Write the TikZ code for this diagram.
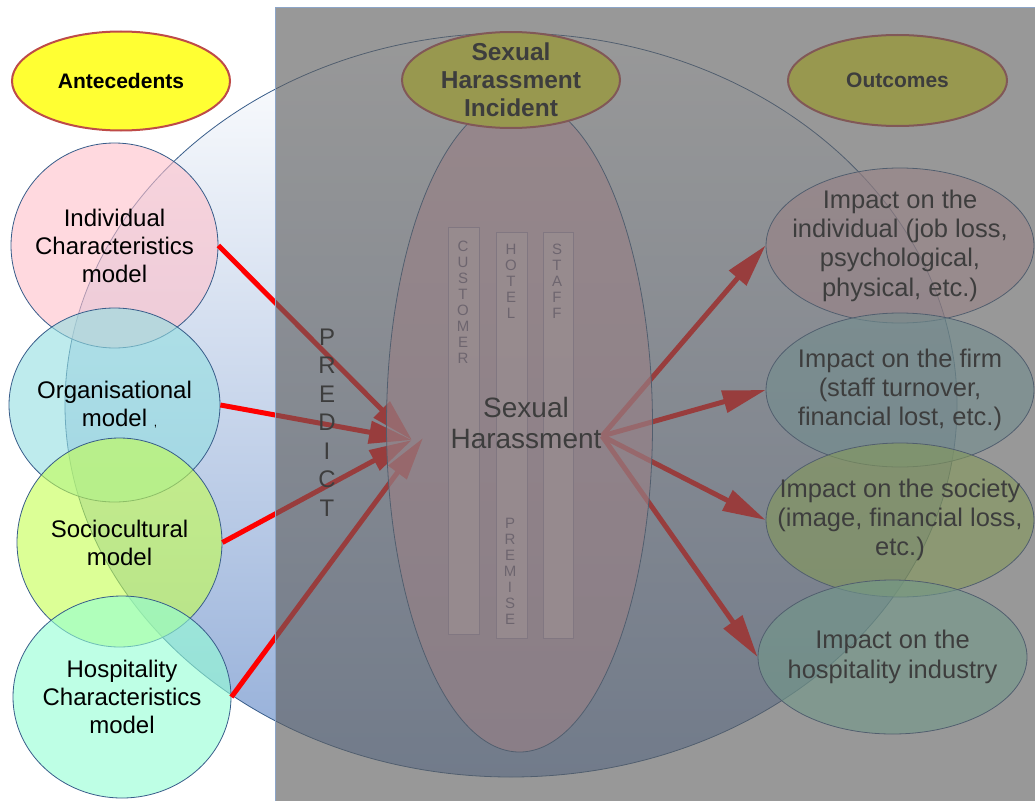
\documentclass[tikz,border=0pt]{standalone}
\usepackage{fontspec}
\setmainfont{Liberation Sans}
\usetikzlibrary{shapes.geometric,arrows.meta}

\definecolor{ringblue}{RGB}{56,93,138}
\definecolor{bigblue}{RGB}{146,173,216}
\definecolor{titlered}{RGB}{190,75,72}
\definecolor{titleyellow}{RGB}{255,255,51}
\definecolor{pinkfill}{RGB}{255,192,202}
\definecolor{cyanfill}{RGB}{147,223,225}
\definecolor{limefill}{RGB}{197,255,80}
\definecolor{mintfill}{RGB}{147,255,213}
\definecolor{corefill}{RGB}{250,185,200}
\definecolor{barfill}{RGB}{255,222,230}
\definecolor{barline}{RGB}{190,163,190}
\definecolor{barletter}{RGB}{135,112,138}
\definecolor{veil}{RGB}{96,96,96}
\definecolor{veilline}{RGB}{140,165,200}

\tikzset{
  titlebox/.style={ellipse, draw=titlered, line width=2pt, fill=titleyellow, inner sep=0pt},
  titletxt/.style={align=center, font=\bfseries\fontsize{21}{28}\selectfont, inner sep=0pt},
  modelbox/.style={ellipse, draw=ringblue, line width=0.8pt, fill opacity=0.6, inner sep=0pt},
  modeltxt/.style={align=center, font=\fontsize{24}{28}\selectfont, inner sep=0pt},
  outtxt/.style={align=center, font=\fontsize{25.5}{29.3}\selectfont, inner sep=0pt},
  link/.style={red, line width=5pt, -{Triangle[length=43pt,width=22pt]}},
  barbox/.style={draw=barline, fill=barfill, fill opacity=0.8, line width=0.8pt},
  barword/.style={align=center, font=\fontsize{15}{16}\selectfont, text=barletter, inner sep=0pt},
}

\begin{document}
\begin{tikzpicture}[x=1pt, y=-1pt]
  \useasboundingbox (0,0) rectangle (1035,800);
  \fill[white] (0,0) rectangle (1035,800);

  % large shaded field behind the whole chain
  \node[ellipse, draw=ringblue, line width=0.8pt, top color=white, bottom color=bigblue,
        minimum width=892pt, minimum height=744pt, inner sep=0pt] (field) at (511,405) {};

  % antecedent models
  \node[titlebox, minimum width=218pt, minimum height=99pt] (ante) at (121,81) {};
  \node[titletxt] (antetxt) at (ante) {Antecedents};

  \node[modelbox, fill=pinkfill, minimum width=207pt, minimum height=205pt] (indiv) at (114.5,245.5) {};
  \node[modelbox, fill=cyanfill, minimum width=211pt, minimum height=194pt] (org) at (114.5,405) {};
  \node[modelbox, fill=limefill, minimum width=205pt, minimum height=209pt] (socio) at (119.5,542.5) {};
  \node[modelbox, fill=mintfill, minimum width=218pt, minimum height=202pt] (hosp) at (122,697) {};

  \node[modeltxt] (indivtxt) at (indiv) {Individual\\Characteristics\\model};
  \node[modeltxt] (orgtxt) at (org) {Organisational\\model\rlap{ {\fontsize{12}{12}\selectfont,}}};
  \node[modeltxt] (sociotxt) at (socio) {Sociocultural\\model};
  \node[modeltxt] (hosptxt) at (hosp) {Hospitality\\Characteristics\\model};

  % outcome ellipses
  \node[modelbox, fill=pinkfill, minimum width=268pt, minimum height=155pt] (imp1) at (900,245.5) {};
  \node[modelbox, fill=cyanfill, minimum width=268pt, minimum height=154pt] (imp2) at (900,390) {};
  \node[modelbox, fill=limefill, minimum width=268pt, minimum height=154pt] (imp3) at (900,520) {};
  \node[modelbox, fill=mintfill, minimum width=269pt, minimum height=154pt] (imp4) at (892.5,657) {};

  \node[outtxt] (imp1txt) at (imp1) {Impact on the\\individual (job loss,\\psychological,\\physical, etc.)};
  \node[outtxt] (imp2txt) at (imp2) {Impact on the firm\\(staff turnover,\\financial lost, etc.)};
  \node[outtxt] (imp3txt) at (imp3) {Impact on the society\\(image, financial loss,\\etc.)};
  \node[outtxt] (imp4txt) at (imp4) {Impact on the\\hospitality industry};

  % connectors into and out of the incident
  \coordinate (hubA) at (412,440);
  \coordinate (hubB) at (423,438);
  \coordinate (src) at (602,436);

  \draw[link] (indiv.east) -- (hubA);
  \draw[link] (org.east) -- (hubA);
  \draw[link] (socio.east) -- (hubA);
  \draw[link] (hosp.east) -- (hubB);

  \draw[link] (src) -- (imp1.west);
  \draw[link] (src) -- (imp2.west);
  \draw[link] (src) -- (imp3.west);
  \draw[link] (src) -- (imp4.west);

  % the incident core
  \node[ellipse, draw=ringblue, line width=0.8pt, fill=corefill, fill opacity=0.65,
        minimum width=266pt, minimum height=654pt, inner sep=0pt] (core) at (519.5,425) {};

  \draw[barbox] (448,227) rectangle (479,634);
  \draw[barbox] (496,232) rectangle (527,638);
  \draw[barbox] (543,232) rectangle (573,638);

  \node[barword] (wcust) at (463,302.5) {C\\U\\S\\T\\O\\M\\E\\R};
  \node[barword] (whotel) at (511,281) {H\\O\\T\\E\\L};
  \node[barword] (wstaff) at (557,281) {S\\T\\A\\F\\F};
  \node[barword] (wprem) at (510,571) {P\\R\\E\\M\\I\\S\\E};

  \node[align=center, font=\fontsize{28}{31}\selectfont, inner sep=0pt] (coretxt) at (526,423) {Sexual\\Harassment};
  \node[align=center, font=\fontsize{24}{28.5}\selectfont, inner sep=0pt] (predict) at (327,422.5) {P\\R\\E\\D\\I\\C\\T};

  % column headings on the right
  \node[titlebox, minimum width=218pt, minimum height=96pt] (incident) at (511,80) {};
  \node[titletxt, font=\bfseries\fontsize{24.5}{28}\selectfont] (incidenttxt) at (incident) {Sexual\\Harassment\\Incident};
  \node[titlebox, minimum width=219pt, minimum height=91pt] (outc) at (897.5,80.5) {};
  \node[titletxt] (outctxt) at (outc) {Outcomes};

  % translucent grey panel over the right part
  \fill[veil, opacity=0.642] (275,8) rectangle (1040,805);
  \draw[veilline, line width=1pt] (275,805) -- (275,8) -- (1040,8);
\end{tikzpicture}
\end{document}
